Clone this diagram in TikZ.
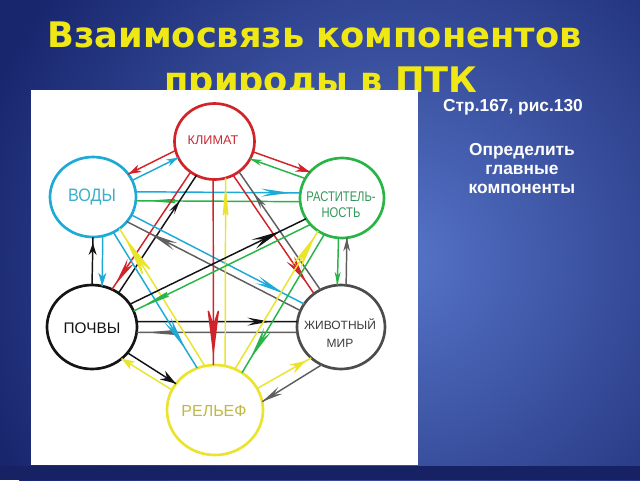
\documentclass[tikz,border=0pt]{standalone}
\usepackage{fontspec}
\usetikzlibrary{shapes.geometric,arrows.meta,decorations.markings}
\setmainfont{Liberation Sans}
\newfontfamily\titlefont{DejaVu Sans}
\newfontfamily\labfont{Liberation Sans}
\newfontfamily\labsemi[FakeStretch=0.9]{Liberation Sans}
\newfontfamily\labnarrow[FakeStretch=0.8]{Liberation Sans}
\definecolor{cred}{RGB}{210,35,40}
\definecolor{cblue}{RGB}{30,170,215}
\definecolor{cgreen}{RGB}{40,180,70}
\definecolor{cblack}{RGB}{20,20,20}
\definecolor{cgray}{RGB}{95,95,95}
\definecolor{cyellow}{RGB}{235,228,45}
\definecolor{ttl}{RGB}{240,232,20}
\definecolor{bgin}{RGB}{86,116,200}
\definecolor{bgout}{RGB}{24,38,110}
\definecolor{tK}{RGB}{200,40,50}
\definecolor{tV}{RGB}{60,175,200}
\definecolor{tR}{RGB}{50,150,90}
\definecolor{tZ}{RGB}{60,60,60}
\definecolor{tRe}{RGB}{190,185,70}
\begin{document}
\begin{tikzpicture}[x=0.75pt,y=-0.75pt,
  comp/.style={ellipse, draw, line width=2pt, inner sep=0pt, outer sep=0pt},
  ln/.style={line width=1.1pt},
  ah/.style n args={4}{postaction={decorate}, decoration={markings,
     mark=at position #1 with {\arrow{Stealth[length=#2,width=#3,inset=#4]}}}},
  lab/.style={inner sep=0pt, align=center},
  ttlstyle/.style={font=\titlefont\bfseries\fontsize{26.4}{30}\selectfont, text=ttl, anchor=base, inner sep=0pt},
  side/.style={font=\bfseries\fontsize{13}{15}\selectfont, text=white, anchor=base, inner sep=0pt}
]
\useasboundingbox (0,0) rectangle (640,480);
% background
\fill[bgout] (0,0) rectangle (640,480);
\begin{scope}
  \clip (0,0) rectangle (640,480);
  \shade[inner color=bgin, outer color=bgout] (400,260) circle (440);
\end{scope}
\fill[bgout!90!black] (0,466) rectangle (640,480);
% title
\node[ttlstyle] (t1) at (314.5,47) {Взаимосвязь компонентов};
\node[ttlstyle] (t2) at (321,92) {природы в ПТК};
% white panel
\fill[white] (31,90) rectangle (418,465);
% right text
\node[side] (ref) at (513,111) {Стр.167, рис.130};
\node[side] (q1) at (522,155) {Определить};
\node[side] (q2) at (522,174) {главные};
\node[side] (q3) at (522,193) {компоненты};
% components
\node[comp, draw=cred, minimum width=60pt, minimum height=57pt] (K) at (214.5,141.5) {};
\node[comp, draw=cblue, minimum width=64.5pt, minimum height=60pt] (V) at (93,197) {};
\node[comp, draw=cgreen, minimum width=63pt, minimum height=60pt] (R) at (342,198) {};
\node[comp, draw=cblack, minimum width=67.5pt, minimum height=63pt] (P) at (92,327) {};
\node[comp, draw=cgray!80!black, minimum width=66pt, minimum height=63pt] (Z) at (341,327) {};
\node[comp, draw=cyellow, minimum width=72pt, minimum height=67.5pt] (Re) at (215,410) {};
% labels
\node[lab, font=\labfont\fontsize{9.5}{11}\selectfont, text=tK] (Kt) at (213,140) {КЛИМАТ};
\node[lab, font=\labsemi\fontsize{13.5}{15}\selectfont, text=tV] (Vt) at (92,197) {ВОДЫ};
\node[lab, font=\labnarrow\fontsize{10.5}{12}\selectfont, text=tR] (Rt) at (341,205) {РАСТИТЕЛЬ-\\НОСТЬ};
\node[lab, font=\labfont\fontsize{11.5}{13}\selectfont, text=cblack] (Pt) at (92,328) {ПОЧВЫ};
\node[lab, font=\labfont\fontsize{9}{13.5}\selectfont, text=tZ] (Zt) at (340,333) {ЖИВОТНЫЙ\\МИР};
\node[lab, font=\labfont\fontsize{12}{14}\selectfont, text=tRe] (Ret) at (214,411) {РЕЛЬЕФ};
% connectors: adjacent pairs
\draw[ln, cred,    ah={1}{9.75pt}{6pt}{3pt}]    (K.193) -- (V.33);
\draw[ln, cblue,   ah={1}{9pt}{5.5pt}{3pt}]     (V.23) -- (K.204);
\draw[ln, cred,    ah={1}{10.5pt}{6.5pt}{3pt}]  (K.345) -- (R.141);
\draw[ln, cgreen,  ah={1}{9pt}{4.5pt}{3pt}]     (R.152) -- (K.334);
\draw[ln, cblue,   ah={0.94}{22pt}{6pt}{8pt}]   (V.7) -- (R.173);
\draw[ln, cgreen,  ah={0.944}{30pt}{4.5pt}{10pt}] (R.185) -- (V.355);
\draw[ln, cblue,   ah={1}{10pt}{6pt}{3pt}]      (V.284) -- (P.76);
\draw[ln, cblack,  ah={0.875}{9pt}{6pt}{3pt}]   (P.90) -- (V.270);
\draw[ln, cgreen,  ah={1}{10pt}{4.5pt}{3pt}]    (R.265) -- (Z.95);
\draw[ln, cgray,   ah={1}{10pt}{5pt}{3pt}]      (Z.83) -- (R.277);
\draw[ln, cblack,  ah={0.83}{17pt}{6pt}{6pt}]   (P.7) -- (Z.173);
\draw[ln, cgray,   ah={0.948}{30pt}{5pt}{10pt}] (Z.187) -- (P.353);
\draw[ln, cblack,  ah={1}{12pt}{7.5pt}{4pt}]    (P.324) -- (Re.146);
\draw[ln, cyellow, ah={1}{10pt}{7pt}{3pt}]      (Re.155) -- (P.313);
\draw[ln, cgray,   ah={1}{16pt}{6pt}{6pt}]      (Z.243) -- (Re.10);
\draw[ln, cyellow, ah={0.9}{12pt}{7.5pt}{4pt}]  (Re.27) -- (Z.226);
% connectors: long diagonals
\draw[ln, cred,    ah={0.96}{21pt}{6pt}{7pt}]   (K.232) -- (P.62);
\draw[ln, cblack,  ah={0.79}{11pt}{4.5pt}{4pt}] (P.52) -- (K.242);
\draw[ln, cred,    ah={0.905}{21pt}{7pt}{7pt}]  (K.299) -- (Z.129);
\draw[ln, cgray,   ah={0.824}{13pt}{4.5pt}{4pt}] (Z.119) -- (K.309);
\draw[ln, cblue,   ah={0.88}{22pt}{6pt}{8pt}]   (V.335) -- (Z.148);
\draw[ln, cgray,   ah={0.87}{22pt}{6pt}{8pt}]   (Z.158) -- (V.324);
\draw[ln, cblue,   ah={0.864}{26pt}{6pt}{9pt}]  (V.300) -- (Re.113);
\draw[ln, cyellow, ah={0.947}{37pt}{9pt}{14pt}] (Re.103) -- (V.310);
\draw[ln, cred,    ah={0.957}{40pt}{10pt}{15pt}] (K.268) -- (Re.92.5);
\draw[ln, cyellow, ah={0.972}{30pt}{5.5pt}{10pt}] (Re.77) -- (K.287);
\draw[ln, cgreen,  ah={0.965}{30pt}{5pt}{10pt}] (R.220) -- (P.21);
\draw[ln, cblack,  ah={0.854}{22pt}{7.5pt}{8pt}] (P.31) -- (R.210);
\draw[ln, cgreen,  ah={0.9}{25pt}{6pt}{8pt}]    (R.244) -- (Re.54);
\draw[ln, cyellow, ah={0.97}{28pt}{7.5pt}{10pt}] (Re.64) -- (R.234);
\end{tikzpicture}
\end{document}
